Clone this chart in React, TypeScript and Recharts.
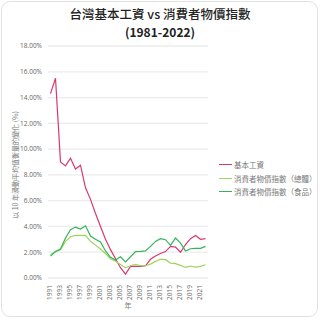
import { LineChart, Line, XAxis, YAxis, CartesianGrid } from "recharts";

const years = [
  "1991", "1992", "1993", "1994", "1995", "1996", "1997", "1998",
  "1999", "2000", "2001", "2002", "2003", "2004", "2005", "2006",
  "2007", "2008", "2009", "2010", "2011", "2012", "2013", "2014",
  "2015", "2016", "2017", "2018", "2019", "2020", "2021", "2022",
];

const wage = [
  14.3, 15.5, 9.0, 8.7, 9.3, 8.45, 8.75, 7.0,
  6.1, 5.0, 4.0, 3.0, 2.2, 1.5, 0.8, 0.3,
  0.9, 0.9, 0.9, 0.95, 1.45, 1.7, 1.9, 2.05,
  2.45, 2.4, 2.0, 2.6, 3.05, 3.3, 3.0, 3.05,
];

const cpiAll = [
  1.8, 2.05, 2.2, 2.85, 3.2, 3.3, 3.3, 3.3,
  2.85, 2.55, 2.25, 1.9, 1.5, 1.3, 1.05, 0.8,
  0.95, 1.05, 0.95, 0.95, 1.08, 1.29, 1.45, 1.42,
  1.16, 1.11, 0.98, 0.82, 0.93, 0.85, 0.9, 1.03,
];

const cpiFood = [
  1.7, 2.05, 2.25, 3.1, 3.75, 3.95, 3.8, 4.05,
  3.25, 3.0, 2.8, 2.1, 1.6, 1.4, 1.65, 1.25,
  1.65, 2.05, 2.07, 2.1, 2.45, 2.84, 3.05, 2.97,
  2.53, 3.1, 2.7, 2.1, 2.27, 2.3, 2.3, 2.45,
];

const yTicks = [0, 2, 4, 6, 8, 10, 12, 14, 16, 18];

const series = [
  { key: "wage", name: "基本工資", color: "#d9386f" },
  { key: "cpiAll", name: "消費者物價指數（總體）", color: "#9fd35a" },
  { key: "cpiFood", name: "消費者物價指數（食品）", color: "#34b45a" },
];

const data = years.map((year, i) => ({
  year,
  wage: wage[i],
  cpiAll: cpiAll[i],
  cpiFood: cpiFood[i],
}));

const font = "'Open Sans', 'Noto Sans CJK TC', sans-serif";

export default function App() {
  return (
    <div style={{ position: "fixed", left: 0, top: 0, width: 320, height: 320, background: "#fff", fontFamily: font }}>
      <div
        style={{
          position: "absolute", left: 1, top: 1, width: 317, height: 316,
          border: "1px solid #e2e2e2", borderRadius: 9, boxSizing: "border-box", pointerEvents: "none",
        }}
      />
      <div style={{ position: "absolute", top: 5, width: 320, textAlign: "center", color: "#222", fontFamily: "'Noto Sans CJK TC', sans-serif" }}>
        <div style={{ fontSize: 12.5, fontWeight: 500, lineHeight: "18px" }}>台灣基本工資 vs 消費者物價指數</div>
        <div style={{ fontSize: 12, fontWeight: 700, lineHeight: "18px" }}>(1981-2022)</div>
      </div>
      <LineChart width={320} height={320} data={data} margin={{ top: 46, right: 112, bottom: 6, left: 8 }}>
        <CartesianGrid vertical={false} stroke="#ebebeb" strokeWidth={1.3} />
        <XAxis
          dataKey="year"
          interval={1}
          tickLine={false}
          axisLine={false}
          padding={{ left: 2.5, right: 2.5 }}
          height={36}
          tick={{ fontSize: 6.5, fill: "#666", angle: -90, textAnchor: "end", dx: -3, dy: -1 }}
          tickMargin={2}
          label={{ value: "年", position: "insideBottom", offset: 6, fontSize: 7, fill: "#777" }}
        />
        <YAxis
          domain={[0, 18]}
          ticks={yTicks}
          width={40}
          tickLine={false}
          axisLine={false}
          tickSize={0}
          tickMargin={6}
          tick={{ fontSize: 6.5, fill: "#666" }}
          tickFormatter={(v: number) => v.toFixed(2) + "%"}
        />
        {series.map((s) => (
          <Line key={s.key} type="linear" dataKey={s.key} name={s.name} stroke={s.color} strokeWidth={1.2} dot={false} isAnimationActive={false} />
        ))}
      </LineChart>
      <div
        style={{
          position: "absolute", left: 15, top: 165, transform: "translate(-50%, -50%) rotate(-90deg)",
          whiteSpace: "nowrap", fontSize: 7, color: "#777", fontFamily: "'Noto Sans CJK TC', sans-serif",
        }}
      >
        以 10 年滑動平均值衡量的變化 (%)
      </div>
      <div style={{ position: "absolute", left: 219, top: 158, fontSize: 7.5, lineHeight: "13.5px", color: "#777", fontFamily: "'Noto Sans CJK TC', sans-serif" }}>
        {series.map((s) => (
          <div key={s.key} style={{ display: "flex", alignItems: "center", whiteSpace: "nowrap" }}>
            <span style={{ display: "inline-block", width: 13, height: 1.3, background: s.color, marginRight: 2 }} />
            {s.name}
          </div>
        ))}
      </div>
    </div>
  );
}
